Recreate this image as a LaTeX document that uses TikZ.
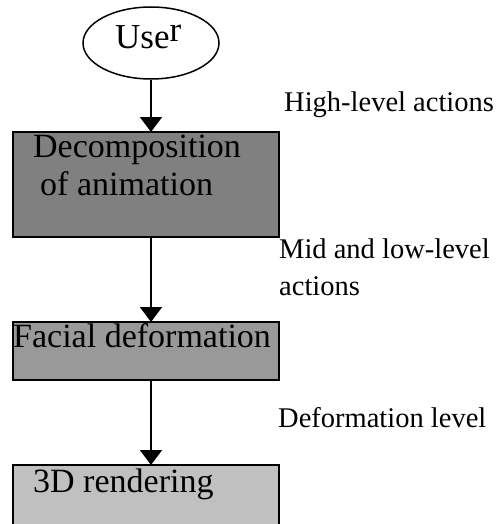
\documentclass[tikz,border=0pt]{standalone}
\usepackage{fontspec}
\setmainfont{Liberation Serif}
\usetikzlibrary{arrows.meta, positioning, shapes.geometric}
\definecolor{darkgrey}{HTML}{808080}
\definecolor{midgrey}{HTML}{999999}
\definecolor{lightgrey}{HTML}{C0C0C0}

\begin{document}
\begin{tikzpicture}[
    x=1pt, y=-1pt,
    actor/.style={
        ellipse, draw=black, line width=1.5pt, fill=white,
        minimum width=136pt, minimum height=72pt, inner sep=0pt
    },
    stage/.style={
        rectangle, draw=black, line width=2pt,
        minimum width=266pt, inner sep=0pt, outer sep=0pt
    },
    boxtxt/.style={font=\fontsize{34}{38}\selectfont, inner sep=0pt, align=left},
    lbl/.style={font=\fontsize{28.5}{37}\selectfont, inner sep=0pt, align=left},
    arr/.style={-{Triangle[length=15pt, width=22pt]}, line width=2pt, black},
]

\clip (0,0) rectangle (495,524);

% Nodes
\node[actor] (user) at (151,43) {};
\node[font=\fontsize{35}{40}\selectfont, inner sep=0pt, anchor=base west] (usertxt) at (115,49) {Use\raisebox{7pt}{r}};

\node[stage, fill=darkgrey, minimum height=105pt] (decomp) at (146,184.5) {};
\node[stage, fill=midgrey, minimum height=58pt] (facial) at (146,351) {};
\node[stage, fill=lightgrey, minimum height=80pt] (render) at (146,505) {};

% Text inside the boxes
\node[boxtxt, anchor=base west] (decomptxt) at (33,157) {Decomposition};
\node[boxtxt, anchor=base west] (decomptxt2) at (40,195) {of animation};
\node[boxtxt, anchor=base west] (facialtxt) at (13,347) {Facial deformation};
\node[boxtxt, anchor=base west] (rendertxt) at (33,492) {3D rendering};

% Arrows down the chain
\draw[arr] (user.south -| user) -- (decomp.north -| user);
\draw[arr] (decomp.south -| user) -- (facial.north -| user);
\draw[arr] (facial.south -| user) -- (render.north -| user);

% Level labels on the right
\node[lbl, anchor=base west] (high) at (284,112) {High-level actions};
\node[lbl, anchor=base west] (mid) at (279,258) {Mid and low-level};
\node[lbl, anchor=base west] (mid2) at (279,295) {actions};
\node[lbl, anchor=base west] (deform) at (278,427) {Deformation level};

\end{tikzpicture}
\end{document}
